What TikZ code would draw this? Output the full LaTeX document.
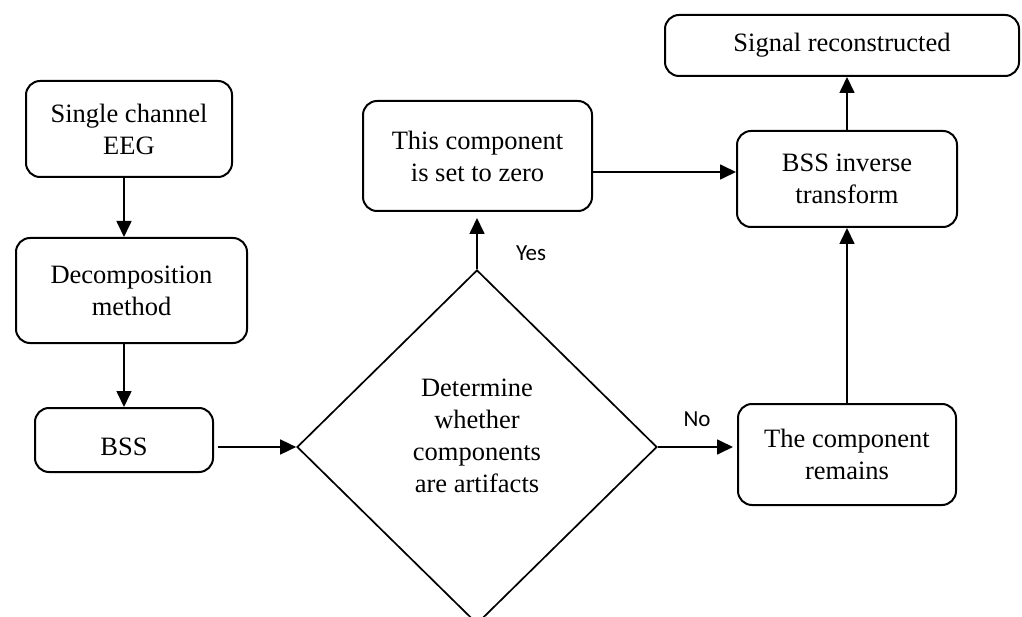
\documentclass[tikz,border=0pt]{standalone}
\usepackage{fontspec}
\setmainfont{Liberation Serif}
\newfontfamily\lblfont{Carlito}
\usetikzlibrary{shapes.geometric,arrows.meta}
\tikzset{
  box/.style={draw, line width=2pt, rounded corners=14pt, inner sep=0pt, align=center,
    font=\fontsize{26.5}{32}\selectfont},
  dec/.style={draw, diamond, line width=1.7pt, inner sep=0pt},
  txt/.style={inner sep=0pt, align=center, font=\fontsize{26.5}{32}\selectfont},
  lbl/.style={inner sep=0pt, font=\lblfont\fontsize{23}{26}\selectfont},
  arr/.style={line width=1.7pt, -{Triangle[length=16pt,width=15pt]}}
}
\begin{document}
\begin{tikzpicture}[x=1pt,y=-1pt]
\clip (0,0) rectangle (1022,617);
\fill[white] (0,0) rectangle (1022,617);
\node[box, minimum width=206pt, minimum height=96pt] (single) at (129,129) {Single channel\\EEG};
\node[box, minimum width=231pt, minimum height=105pt] (decomp) at (131.5,290.5) {Decomposition\\method};
\node[box, minimum width=178pt, minimum height=64pt, text height=31pt, text depth=0pt] (bss) at (124,440) {BSS};
\node[dec, minimum width=360pt, minimum height=354pt] (dia) at (477,447) {};
\node[txt] (diat) at (477,436) {Determine\\whether\\components\\are artifacts};
\node[box, minimum width=229pt, minimum height=110pt] (zero) at (477.5,156) {This component\\is set to zero};
\node[box, minimum width=220pt, minimum height=96pt] (inv) at (847,179) {BSS inverse\\transform};
\node[box, minimum width=354pt, minimum height=61pt] (signal) at (842,45.5) {Signal reconstructed};
\node[box, minimum width=218pt, minimum height=101pt] (remain) at (847,454.5) {The component\\remains};
\node[lbl] (yes) at (531,253) {Yes};
\node[lbl] (no) at (697,419) {No};
\draw[arr] (single.south -| bss.north) -- (decomp.north -| bss.north);
\draw[arr] (decomp.south -| bss.north) -- (bss.north);
\draw[arr, shorten <=4pt] (bss.east |- dia.west) -- (dia.west);
\draw[arr, shorten >=6pt] (dia.north) -- (dia.north |- zero.south);
\draw[arr] ([yshift=-16pt]zero.east) -- ([yshift=7pt]inv.west);
\draw[arr, shorten >=4pt] (dia.east) -- (dia.east -| remain.west);
\draw[arr] (remain.north) -- (inv.south);
\draw[arr] (inv.north) -- (inv.north |- signal.south);
\end{tikzpicture}
\end{document}
